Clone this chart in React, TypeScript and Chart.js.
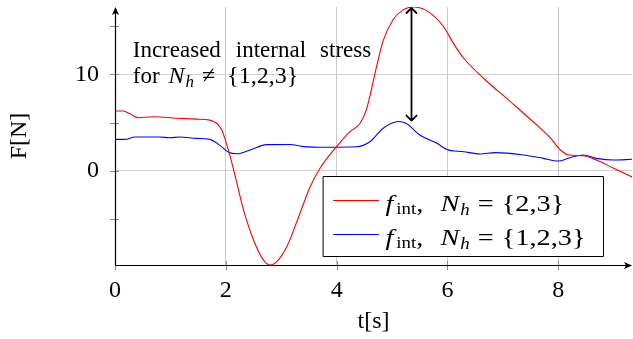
import React, { useEffect, useRef } from 'react';
import { Chart, registerables } from 'chart.js';

Chart.register(...registerables);

// ---- data ----
const redT = [0, 0.15, 0.27, 0.42, 0.69, 1.11, 1.47, 1.71, 1.84, 1.93, 1.99, 2.08, 2.17, 2.32, 2.5, 2.68, 2.8, 2.92, 3.1, 3.34, 3.52, 3.7, 4.0, 4.24, 4.42, 4.54, 4.72, 4.84, 5.02, 5.2, 5.38, 5.63, 5.93, 6.11, 6.29, 6.65, 7.13, 7.61, 7.85, 8.03, 8.18, 8.45, 8.69, 9.0, 9.33];
const redF = [6.2, 6.2, 5.9, 5.5, 5.6, 5.45, 5.35, 5.25, 4.9, 4.2, 3.2, 1.45, -0.6, -4.1, -7.2, -9.3, -9.8, -9.45, -7.9, -4.4, -1.7, 0.25, 2.5, 4.05, 4.9, 6.4, 10.8, 13.5, 15.7, 16.7, 17.0, 16.6, 14.95, 13.2, 11.7, 9.6, 7.2, 4.75, 3.45, 2.2, 1.65, 1.55, 1.1, 0.25, -0.65];
const blueT = [0, 0.18, 0.36, 0.81, 0.99, 1.17, 1.47, 1.71, 1.9, 2.05, 2.2, 2.44, 2.74, 3.16, 3.4, 3.82, 4.36, 4.6, 4.84, 5.11, 5.26, 5.5, 5.81, 5.99, 6.29, 6.59, 6.86, 7.37, 7.73, 8.0, 8.21, 8.45, 8.69, 9.0, 9.33];
const blueF = [3.25, 3.25, 3.5, 3.5, 3.42, 3.5, 3.35, 3.25, 2.6, 1.9, 1.75, 2.15, 2.7, 2.72, 2.5, 2.43, 2.48, 3.0, 4.4, 5.1, 4.9, 3.7, 2.85, 2.2, 1.97, 1.73, 1.87, 1.63, 1.28, 1.0, 1.35, 1.63, 1.28, 1.1, 1.18];

const xTicks = [0, 2, 4, 6, 8];
const yTicks = [-5, 0, 5, 10, 15];
const yLabeled = [0, 10];
const xRange = [0, 9.33];
const yRange = [-9.8, 17.0];

const xTitle = 't[s]';
const yTitle = 'F[N]';

// annotation (double arrow + text), in data coordinates
const arrowT = 5.34;
const arrowTop = 17.0;
const arrowBottom = 5.1;
const noteT = 0.32;
const noteF = [11.8, 9.1];
const noteWords = ['Increased', 'internal', 'stress'];
const noteSet = '{1,2,3}';

const seriesSets = ['{2,3}', '{1,2,3}'];
const seriesColors = ['#ff0000', '#0000ff'];

const FONT = '"Liberation Serif", "Times New Roman", serif';

type Seg = { t: string; size: number; italic?: boolean; dy?: number; gap?: number };

function drawSegs(ctx: CanvasRenderingContext2D, segs: Seg[], x: number, y: number, stretch = 1) {
  ctx.save();
  ctx.translate(x, y);
  ctx.scale(stretch, 1);
  let cx = 0;
  for (const s of segs) {
    cx += (s.gap || 0) / stretch;
    ctx.font = `${s.italic ? 'italic ' : ''}${s.size}px ${FONT}`;
    ctx.fillText(s.t, cx, s.dy || 0);
    cx += ctx.measureText(s.t).width;
  }
  ctx.restore();
}

function latexHead(ctx: CanvasRenderingContext2D, x: number, y: number, dir: 'up' | 'right') {
  ctx.beginPath();
  if (dir === 'right') {
    ctx.moveTo(x, y);
    ctx.lineTo(x - 8, y - 3.5);
    ctx.lineTo(x - 6, y);
    ctx.lineTo(x - 8, y + 3.5);
  } else {
    ctx.moveTo(x, y);
    ctx.lineTo(x - 3.5, y + 8);
    ctx.lineTo(x, y + 6);
    ctx.lineTo(x + 3.5, y + 8);
  }
  ctx.closePath();
  ctx.fill();
}

export default function App() {
  const ref = useRef<HTMLCanvasElement>(null);

  useEffect(() => {
    const canvas = ref.current;
    if (!canvas) return;

    const decor = {
      id: 'decor',
      afterDraw(chart: any) {
        const { ctx, chartArea: ca, scales } = chart;
        const xs = scales.x;
        const ys = scales.y;
        ctx.save();

        // tick marks (both sides of axes)
        ctx.strokeStyle = '#8a8a8a';
        ctx.lineWidth = 1;
        ctx.beginPath();
        for (const v of xTicks) {
          const px = Math.round(xs.getPixelForValue(v)) + 0.5;
          ctx.moveTo(px, ca.bottom - 4);
          ctx.lineTo(px, ca.bottom + 5);
        }
        for (const v of yTicks) {
          const py = Math.round(ys.getPixelForValue(v)) + 0.5;
          ctx.moveTo(ca.left - 5, py);
          ctx.lineTo(ca.left + 4, py);
        }
        ctx.stroke();

        // axis lines with arrows
        const ax = Math.round(ca.left) + 0.5;
        const ay = Math.round(ca.bottom) + 0.5;
        ctx.strokeStyle = '#000';
        ctx.fillStyle = '#000';
        ctx.lineWidth = 1.2;
        ctx.beginPath();
        ctx.moveTo(ax, ay);
        ctx.lineTo(ax, ca.top + 3);
        ctx.moveTo(ax, ay);
        ctx.lineTo(ca.right - 3, ay);
        ctx.stroke();
        latexHead(ctx, ax, ca.top, 'up');
        latexHead(ctx, ca.right, ay, 'right');

        // double arrow annotation
        const arx = Math.round(xs.getPixelForValue(arrowT)) + 0.5;
        const aTop = ys.getPixelForValue(arrowTop);
        const aBot = ys.getPixelForValue(arrowBottom);
        ctx.lineWidth = 1.8;
        ctx.lineCap = 'round';
        ctx.lineJoin = 'round';
        ctx.beginPath();
        ctx.moveTo(arx, aTop + 1);
        ctx.lineTo(arx, aBot - 1);
        ctx.moveTo(arx - 5, aTop + 6);
        ctx.lineTo(arx, aTop + 1);
        ctx.lineTo(arx + 5, aTop + 6);
        ctx.moveTo(arx - 5, aBot - 6);
        ctx.lineTo(arx, aBot - 1);
        ctx.lineTo(arx + 5, aBot - 6);
        ctx.stroke();

        // annotation text
        ctx.fillStyle = '#000';
        ctx.textBaseline = 'alphabetic';
        ctx.textAlign = 'left';
        const nx = xs.getPixelForValue(noteT);
        const n1 = ys.getPixelForValue(noteF[0]);
        const n2 = ys.getPixelForValue(noteF[1]);
        ctx.font = `23px ${FONT}`;
        let wx = nx;
        noteWords.forEach((w, i) => {
          ctx.fillText(w, wx, n1);
          wx += ctx.measureText(w).width + (i === 0 ? 15 : 14);
        });
        drawSegs(ctx, [
          { t: 'for', size: 23 },
          { t: 'N', size: 24, italic: true, gap: 9 },
          { t: 'h', size: 17, italic: true, dy: 4, gap: 1 },
          { t: '\u2260', size: 24, gap: 8 },
          { t: noteSet, size: 24, gap: 12 },
        ], nx, n2);

        // legend
        const bw = 280, bh = 80;
        const bx = Math.round(ca.right - 29 - bw) + 0.5;
        const by = Math.round(ca.bottom - 9 - bh) + 0.5;
        ctx.fillStyle = '#fff';
        ctx.fillRect(bx, by, bw, bh);
        ctx.strokeStyle = '#000';
        ctx.lineWidth = 1;
        ctx.strokeRect(bx, by, bw, bh);
        seriesSets.forEach((set, i) => {
          const ly = by + 23 + i * 34;
          ctx.strokeStyle = seriesColors[i];
          ctx.lineWidth = 1;
          ctx.beginPath();
          ctx.moveTo(bx + 10, Math.round(ly) + 0.5);
          ctx.lineTo(bx + 55, Math.round(ly) + 0.5);
          ctx.stroke();
          ctx.fillStyle = '#000';
          drawSegs(ctx, [
            { t: 'f', size: 24, italic: true },
            { t: 'int', size: 16, dy: 3, gap: 3 },
            { t: ',', size: 24 },
            { t: 'N', size: 24, italic: true, gap: 17 },
            { t: 'h', size: 16, italic: true, dy: 4, gap: 1 },
            { t: '=', size: 24, gap: 8 },
            { t: set, size: 24, gap: 8 },
          ], bx + 62, ly + 11, 1.18);
        });

        ctx.restore();
      },
    };

    const chart = new Chart(canvas, {
      type: 'line',
      data: {
        datasets: [
          {
            label: 'red',
            data: redT.map((t, i) => ({ x: t, y: redF[i] })),
            borderColor: seriesColors[0],
            borderWidth: 1.1,
            pointRadius: 0,
            fill: false,
            cubicInterpolationMode: 'monotone',
          },
          {
            label: 'blue',
            data: blueT.map((t, i) => ({ x: t, y: blueF[i] })),
            borderColor: seriesColors[1],
            borderWidth: 1.1,
            pointRadius: 0,
            fill: false,
            cubicInterpolationMode: 'monotone',
          },
        ],
      },
      options: {
        responsive: false,
        animation: false,
        layout: { padding: { top: 7, right: 1, left: 0, bottom: 0 } },
        plugins: { legend: { display: false }, tooltip: { enabled: false } },
        scales: {
          x: {
            type: 'linear',
            min: xRange[0],
            max: xRange[1],
            afterBuildTicks: (s: any) => { s.ticks = xTicks.map((v) => ({ value: v })); },
            afterFit: (s: any) => { s.height = 74; s.paddingLeft = 0; s.paddingRight = 0; },
            border: { display: false },
            grid: {
              drawTicks: false,
              color: (c: any) => (c.tick && c.tick.value === 0 ? 'rgba(0,0,0,0)' : '#c9c9c9'),
              lineWidth: 1,
            },
            ticks: {
              padding: 11,
              color: '#000',
              maxRotation: 0,
              font: { family: FONT, size: 24, lineHeight: 1.2 },
              callback: (v: any) => String(v),
            },
            title: {
              display: true,
              text: xTitle,
              color: '#000',
              font: { family: FONT, size: 24, lineHeight: 1.2 },
              padding: { top: 0, bottom: 3 },
            },
          },
          y: {
            type: 'linear',
            min: yRange[0],
            max: yRange[1],
            afterBuildTicks: (s: any) => { s.ticks = yTicks.map((v) => ({ value: v })); },
            afterFit: (s: any) => { s.width = 115; s.paddingTop = 0; s.paddingBottom = 0; },
            border: { display: false },
            grid: {
              drawTicks: false,
              color: (c: any) => (c.tick && yLabeled.includes(c.tick.value) ? '#d2d2d2' : 'rgba(0,0,0,0)'),
              lineWidth: 1,
            },
            ticks: {
              padding: 16,
              color: '#000',
              font: { family: FONT, size: 24, lineHeight: 1.2 },
              callback: (v: any) => (yLabeled.includes(Number(v)) ? String(v) : ''),
            },
            title: {
              display: true,
              text: yTitle,
              color: '#000',
              font: { family: FONT, size: 24, lineHeight: 1.2 },
              padding: { top: 5, bottom: 0 },
            },
          },
        },
      },
      plugins: [decor],
    } as any);

    return () => chart.destroy();
  }, []);

  return (
    <div style={{ position: 'absolute', left: 0, top: 0, width: 633, height: 339, background: '#fff' }}>
      <canvas ref={ref} width={633} height={339} style={{ display: 'block' }} />
    </div>
  );
}
